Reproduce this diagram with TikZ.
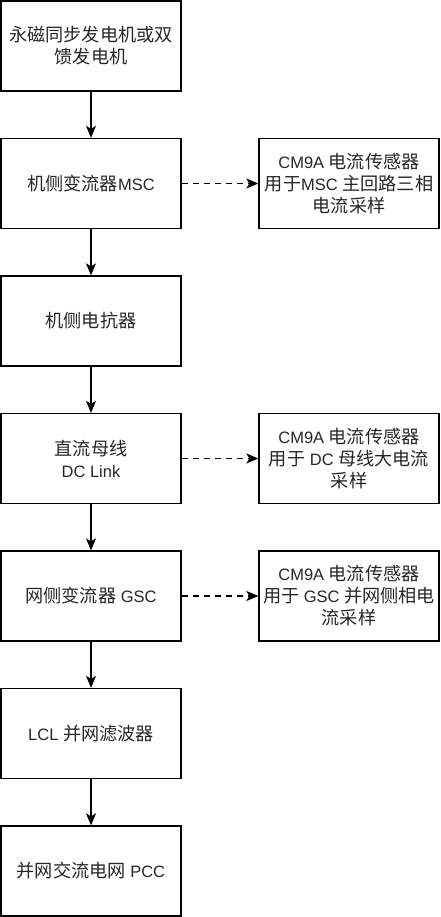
\documentclass[tikz,border=0pt]{standalone}
\usepackage{fontspec}
\setmainfont{Liberation Sans}
\newfontfamily\cjk{Noto Sans CJK SC}[Scale=1.1]
\newcommand\zh[1]{{\cjk #1}}
\usetikzlibrary{arrows.meta}
\begin{document}
\begin{tikzpicture}[x=1pt,y=-1pt,
  box/.style={draw=black, line width=1.3pt, minimum width=180pt, minimum height=90pt, inner sep=0pt,
    align=center, font=\fontsize{16.5}{22}\selectfont, text=black!85},
  flow/.style={line width=1.3pt, -{Stealth[length=12pt,width=10pt,inset=3pt]}},
  sense/.style={line width=1.3pt, dash pattern=on 6pt off 5pt, -{Stealth[length=12pt,width=10pt,inset=3pt]}}]
\useasboundingbox (0,0) rectangle (440,917);
\node[box] (gen) at (91,46) {\zh{永磁同步发电机或双}\\\zh{馈发电机}};
\node[box] (msc) at (91,183.5) {\zh{机侧变流器}MSC};
\node[box] (react) at (91,321) {\zh{机侧电抗器}};
\node[box] (dc) at (91,458.5) {\zh{直流母线}\\DC Link};
\node[box] (gsc) at (91,596) {\zh{网侧变流器} GSC};
\node[box] (lcl) at (91,733.5) {LCL \zh{并网滤波器}};
\node[box] (pcc) at (91,871) {\zh{并网交流电网} PCC};
\node[box] (s1) at (349,183.5) {CM9A \zh{电流传感器}\\\zh{用于}MSC \zh{主回路三相}\\\zh{电流采样}};
\node[box] (s2) at (349,458.5) {CM9A \zh{电流传感器}\\\zh{用于} DC \zh{母线大电流}\\\zh{采样}};
\node[box] (s3) at (349,596) {CM9A \zh{电流传感器}\\\zh{用于} GSC \zh{并网侧相电}\\\zh{流采样}};
\draw[flow] (gen) -- (msc);
\draw[flow] (msc) -- (react);
\draw[flow] (react) -- (dc);
\draw[flow] (dc) -- (gsc);
\draw[flow] (gsc) -- (lcl);
\draw[flow] (lcl) -- (pcc);
\draw[sense] (msc) -- (s1);
\draw[sense] (dc) -- (s2);
\draw[sense] (gsc) -- (s3);
\end{tikzpicture}
\end{document}
